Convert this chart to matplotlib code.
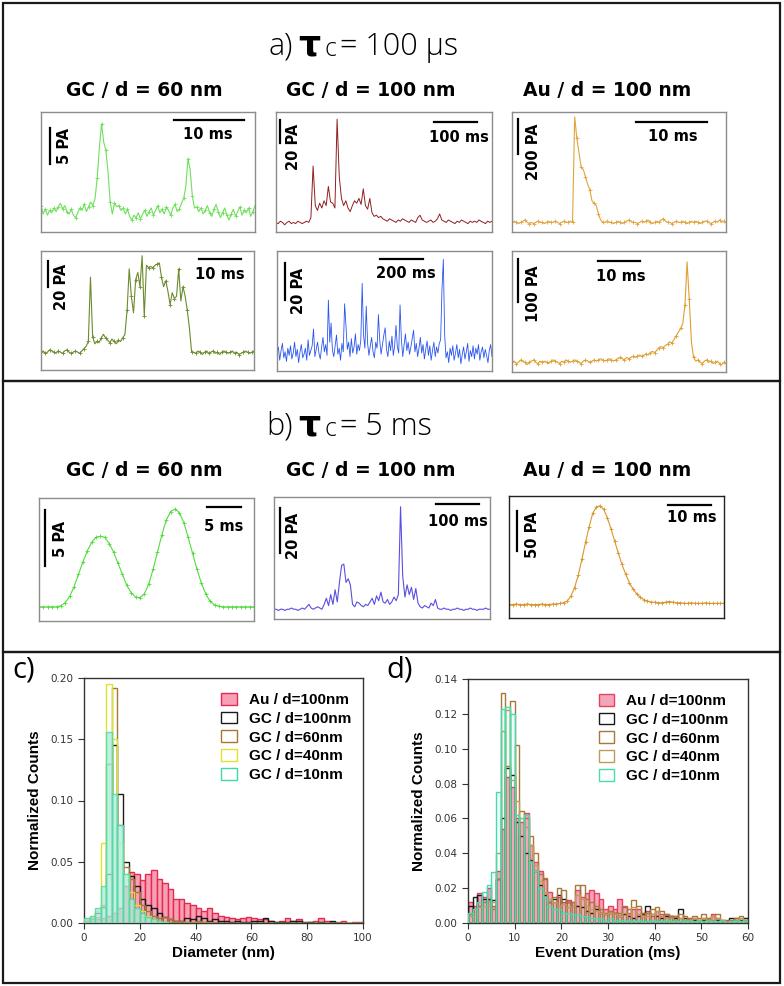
import numpy as np
import matplotlib
matplotlib.use("Agg")
import matplotlib.pyplot as plt
from matplotlib.patches import Rectangle, Patch

W, H = 784, 986

# ---------------- current traces (0-100 = box height) ----------------
a_gc60_1 = [22, 15, 19, 14, 18, 16, 20, 17, 21, 24, 19, 22, 17, 15, 19, 14, 12, 16, 20, 18, 23, 17, 21, 25, 22,
            28, 45, 70, 90, 75, 68, 50, 25, 15,
            24, 21, 22, 18, 20, 15, 19, 13, 10, 14, 12, 16, 11, 15, 18, 13, 17, 20, 14, 18, 22, 16, 19, 15, 21, 18,
            14, 20, 23, 17, 19, 24,
            28, 38, 61, 52, 30, 20,
            21, 17, 20, 15, 18, 22, 16, 13, 19, 23, 17, 12, 16, 20, 14, 10, 15, 19, 13, 17, 21, 14, 18, 16, 20, 13, 17, 22]

a_gc100_1 = [8, 7, 9, 8, 6, 8, 9, 7, 8, 7, 9, 8, 7, 8, 9, 8,
             12, 55, 22, 18, 24, 20, 26, 22, 38, 25, 24, 20, 94, 46, 28, 22, 26, 20, 17, 22, 26, 24, 28, 23,
             36, 22, 19, 28, 16, 13, 14, 12, 13, 11,
             10, 9, 11, 10, 9, 8, 10, 9, 11, 10, 9, 8, 10, 9, 8, 12, 14, 10, 9, 8, 9, 10, 8, 9, 11, 15, 10, 9, 8, 10,
             9, 8, 7, 9, 8, 10, 9, 8, 7, 9, 8, 9, 8, 10, 9, 8, 7, 9, 8, 9]

a_au_1 = [8, 9, 8, 7, 8, 9, 10, 8, 7, 8, 7, 8, 9, 8, 8, 7, 8, 9, 8, 8, 9, 8, 7, 8, 9, 8, 8, 9, 8,
          96, 78, 66, 54, 52, 46, 40, 35, 26, 24, 22, 15, 10, 8,
          8, 9, 8, 8, 7, 8, 9, 8, 7, 8, 9, 10, 9, 8, 8, 7, 8, 9, 8, 9, 10, 8, 7, 8, 9, 8, 10, 11, 9, 8,
          8, 7, 8, 9, 8, 8, 9, 8, 7, 8, 9, 8, 9, 8, 7, 8, 9, 9, 8, 7, 8, 9, 8, 10, 8, 9, 8]

a_gc60_2 = [15, 16, 14, 15, 17, 16, 15, 14, 16, 15, 14, 16, 17, 15, 14, 15, 16, 15, 14, 16, 18, 20,
            24, 78, 28, 22, 24, 23, 27, 30, 27, 25, 23, 26, 24, 22, 25, 24, 27, 30,
            50, 85, 62, 48, 76, 82, 70, 96, 45, 88, 86, 87, 86, 88, 89, 90, 78, 70, 75, 66,
            55, 65, 60, 62, 85, 58, 70, 62, 50, 35, 15,
            15, 14, 16, 15, 13, 15, 16, 14, 15, 16, 14, 15, 13, 15, 16, 15, 14, 15, 16, 14, 15, 13, 14, 15, 16,
            15, 14, 15, 16]

a_gc100_2 = [14, 20, 9, 17, 23, 11, 16, 8, 19, 13,
             21, 10, 15, 24, 12, 18, 7, 16, 22, 11,
             14, 19, 9, 26, 13, 17, 21, 35, 12, 18,
             24, 15, 10, 20, 28, 16, 22, 13, 59, 24,
             40, 17, 12, 21, 30, 14, 19, 9, 23, 16,
             56, 38, 18, 24, 12, 27, 15, 20, 31, 14,
             22, 17, 26, 73, 30, 19, 54, 23, 13, 21,
             28, 16, 11, 24, 19, 47, 25, 14, 22, 30,
             36, 18, 12, 25, 17, 29, 13, 21, 38, 20,
             15, 55, 26, 12, 22, 31, 17, 24, 14, 20,
             27, 34, 16, 23, 12, 19, 28, 15, 22, 10,
             18, 25, 13, 21, 9, 17, 24, 12, 20, 15,
             23, 26, 68, 93, 30, 11, 16, 7, 19, 13,
             21, 9, 15, 22, 11, 18, 6, 14, 20, 10,
             16, 23, 8, 17, 12, 21, 10, 19, 14, 22,
             9, 16, 20, 11, 18, 13, 7, 17, 22, 12]

a_au_2 = [8, 9, 7, 8, 10, 9, 8, 6, 8, 9, 10, 8, 7, 9, 8, 9, 8, 7, 9, 10, 9, 8, 7, 9, 8, 10, 9, 8, 9, 10,
          9, 8, 7, 9, 10, 9, 8, 9, 10, 9, 10, 11, 10, 9, 10, 11, 10, 9, 10, 11, 12, 11, 10, 12, 11, 12, 13, 12, 13, 14,
          13, 14, 15, 14, 16, 17, 16, 18, 20, 21, 20, 22, 23, 25, 24, 27, 30, 33, 36, 40,
          55, 91, 60, 25, 12, 9,
          10, 8, 7, 9, 10, 8, 9, 7, 8, 9, 7, 6, 8, 7]

b_gc60 = [11.5, 11.5, 11.5, 11.5, 11.5, 12.5, 15, 20, 28, 38, 48, 57, 64, 68, 69, 68, 63, 56, 47, 38,
          29, 23, 19.5, 19, 22, 30, 42, 56, 70, 82, 89, 91, 88, 80, 68, 55, 42, 31, 22, 16,
          13, 12, 11.5, 11.5, 11.5, 11.5, 11.5, 11.5, 11.5, 11.5]

b_gc100 = [8, 8, 7, 8, 8, 7, 8, 8, 9, 8, 8, 7, 8, 9, 8, 10,
           12, 9, 8, 9, 10, 9, 8, 12, 17, 11, 20, 12, 24, 14, 30, 44, 45, 30, 33, 28, 12, 10, 14, 13,
           11, 10, 12, 11, 14, 17, 12, 19, 15, 22, 14, 13, 16, 12, 14, 18, 15, 20, 92, 35,
           18, 28, 20, 26, 16, 25, 13, 10, 9, 11, 10, 9, 13, 11, 16, 9, 8,
           8, 9, 8, 8, 7, 8, 8, 9, 8, 8, 7, 8, 8, 9, 8, 8, 7, 8, 8, 8, 9, 8, 8]

b_au = [11, 11, 11.5, 11, 11, 11.5, 11, 11, 11, 11.5, 11, 11, 11.5, 11.5, 12, 12.5,
        14, 18, 25, 35, 48, 62, 75, 86, 91, 92, 89, 82, 73, 63, 53, 44, 36, 29, 24, 20, 17, 15, 14, 13,
        13, 12.5, 12.5, 13, 13.5, 13, 12.5,
        12.5, 12, 12, 12.5, 12, 12, 12, 12.5, 12, 12, 12, 12, 12]

# ---------------- histograms ----------------
diam_bin = 2.0
c_au = [0.002, 0.003, 0.003, 0.004, 0.006, 0.008, 0.012, 0.030, 0.042, 0.040,
        0.035, 0.040, 0.043, 0.036, 0.033, 0.028, 0.020, 0.020, 0.016, 0.015,
        0.012, 0.010, 0.012, 0.008, 0.006, 0.005, 0.004, 0.003, 0.004, 0.005,
        0.004, 0.003, 0.003, 0.002, 0.001, 0.002, 0.004, 0.002, 0.003, 0.000,
        0.001, 0.002, 0.004, 0.002, 0.001, 0.001, 0.002, 0.000, 0.001, 0.001]
c_gc100 = [0.003, 0.005, 0.008, 0.013, 0.040, 0.145, 0.105, 0.050, 0.038, 0.030,
           0.020, 0.015, 0.012, 0.008, 0.005, 0.003, 0.002, 0.002, 0.004, 0.003,
           0.006, 0.004, 0.002, 0.003, 0.002, 0.002, 0.001, 0.002, 0.001, 0.001,
           0.002, 0.002, 0.004, 0.002, 0.001, 0.001, 0.001, 0.002, 0.002, 0.001,
           0.001, 0.000, 0.001, 0.000, 0.002, 0.000, 0.000, 0.000, 0.000, 0.000]
c_gc60 = [0.003, 0.004, 0.005, 0.015, 0.130, 0.192, 0.080, 0.046, 0.036, 0.025,
          0.015, 0.010, 0.006, 0.004, 0.005, 0.003, 0.002, 0.002, 0.001, 0.001,
          0.002, 0.001, 0.001, 0.000, 0.000, 0.000, 0.000, 0.000, 0.000, 0.000,
          0.000, 0.000, 0.000, 0.000, 0.000, 0.000, 0.000, 0.000, 0.000, 0.000,
          0.000, 0.000, 0.000, 0.000, 0.000, 0.000, 0.000, 0.000, 0.000, 0.000]
c_gc40 = [0.003, 0.005, 0.010, 0.065, 0.195, 0.150, 0.065, 0.040, 0.025, 0.015,
          0.010, 0.006, 0.003, 0.002, 0.001, 0.000, 0.000, 0.000, 0.000, 0.000,
          0.000, 0.000, 0.000, 0.000, 0.000, 0.000, 0.000, 0.000, 0.000, 0.000,
          0.000, 0.000, 0.000, 0.000, 0.000, 0.000, 0.000, 0.000, 0.000, 0.000,
          0.000, 0.000, 0.000, 0.000, 0.000, 0.000, 0.000, 0.000, 0.000, 0.000]
c_gc10 = [0.004, 0.006, 0.012, 0.030, 0.156, 0.105, 0.080, 0.040, 0.020, 0.012,
          0.008, 0.005, 0.003, 0.002, 0.001, 0.000, 0.000, 0.000, 0.000, 0.000,
          0.000, 0.000, 0.000, 0.000, 0.000, 0.000, 0.000, 0.000, 0.000, 0.000,
          0.000, 0.000, 0.000, 0.000, 0.000, 0.000, 0.000, 0.000, 0.000, 0.000,
          0.000, 0.000, 0.000, 0.000, 0.000, 0.000, 0.000, 0.000, 0.000, 0.000]

dur_bin = 1.0
d_au = [0.012, 0.010, 0.017, 0.015, 0.020, 0.010, 0.030, 0.054, 0.084, 0.078,
        0.060, 0.058, 0.063, 0.045, 0.035, 0.030, 0.025, 0.018, 0.012, 0.015,
        0.012, 0.013, 0.012, 0.019, 0.015, 0.017, 0.019, 0.017, 0.014, 0.008,
        0.010, 0.008, 0.014, 0.009, 0.006, 0.008, 0.008, 0.006, 0.007, 0.004,
        0.007, 0.005, 0.005, 0.004, 0.004, 0.003, 0.002, 0.003, 0.003, 0.002,
        0.003, 0.003, 0.005, 0.003, 0.002, 0.002, 0.001, 0.002, 0.001, 0.001]
d_gc100 = [0.010, 0.015, 0.016, 0.014, 0.014, 0.013, 0.025, 0.060, 0.089, 0.085,
           0.058, 0.050, 0.040, 0.036, 0.030, 0.022, 0.016, 0.012, 0.014, 0.016,
           0.014, 0.012, 0.010, 0.010, 0.009, 0.007, 0.006, 0.008, 0.006, 0.005,
           0.006, 0.006, 0.004, 0.005, 0.004, 0.003, 0.004, 0.005, 0.010, 0.005,
           0.004, 0.003, 0.004, 0.004, 0.003, 0.008, 0.003, 0.002, 0.002, 0.001,
           0.002, 0.002, 0.001, 0.002, 0.001, 0.001, 0.003, 0.003, 0.002, 0.003]
d_gc60 = [0.005, 0.008, 0.010, 0.012, 0.013, 0.008, 0.025, 0.132, 0.090, 0.1275,
          0.102, 0.064, 0.060, 0.050, 0.040, 0.028, 0.026, 0.012, 0.015, 0.020,
          0.019, 0.012, 0.012, 0.022, 0.022, 0.014, 0.012, 0.010, 0.008, 0.006,
          0.007, 0.006, 0.006, 0.010, 0.008, 0.013, 0.010, 0.006, 0.006, 0.008,
          0.009, 0.007, 0.005, 0.004, 0.004, 0.005, 0.004, 0.003, 0.004, 0.003,
          0.005, 0.003, 0.004, 0.005, 0.002, 0.001, 0.002, 0.003, 0.004, 0.002]
d_gc40 = [0.004, 0.006, 0.009, 0.010, 0.011, 0.012, 0.040, 0.110, 0.122, 0.082,
          0.070, 0.060, 0.055, 0.045, 0.033, 0.024, 0.018, 0.014, 0.012, 0.010,
          0.011, 0.009, 0.010, 0.016, 0.014, 0.010, 0.008, 0.007, 0.006, 0.005,
          0.006, 0.005, 0.004, 0.006, 0.005, 0.009, 0.005, 0.004, 0.004, 0.005,
          0.007, 0.004, 0.003, 0.003, 0.002, 0.003, 0.002, 0.002, 0.003, 0.002,
          0.003, 0.002, 0.004, 0.003, 0.002, 0.001, 0.001, 0.002, 0.003, 0.002]
d_gc10 = [0.006, 0.008, 0.012, 0.018, 0.022, 0.029, 0.075, 0.123, 0.124, 0.120,
          0.062, 0.060, 0.062, 0.035, 0.030, 0.020, 0.015, 0.010, 0.008, 0.008,
          0.006, 0.006, 0.005, 0.005, 0.004, 0.004, 0.003, 0.003, 0.003, 0.002,
          0.003, 0.002, 0.002, 0.002, 0.002, 0.001, 0.002, 0.001, 0.001, 0.002,
          0.001, 0.001, 0.002, 0.001, 0.001, 0.001, 0.001, 0.001, 0.001, 0.001,
          0.001, 0.001, 0.001, 0.001, 0.001, 0.000, 0.001, 0.001, 0.001, 0.001]

legend_labels = ["Au / d=100nm", "GC / d=100nm", "GC / d=60nm", "GC / d=40nm", "GC / d=10nm"]

plt.rcParams["font.family"] = ["DejaVu Sans"]
fig = plt.figure(figsize=(W / 100, H / 100), dpi=100)


def px_axes(x0, y0, x1, y1):
    return fig.add_axes([x0 / W, 1 - y1 / H, (x1 - x0) / W, (y1 - y0) / H])


def ftext(x, y, s, **kw):
    fig.text(x / W, 1 - y / H, s, **kw)


def border(x0, y0, x1, y1):
    fig.add_artist(Rectangle((x0 / W, 1 - y1 / H), (x1 - x0) / W, (y1 - y0) / H,
                             transform=fig.transFigure, fill=False, lw=1.6, ec="#1a1a1a"))


def trace(box, y, color, marks, hbar, hlab, vbar, vlab, edge="#8c8c8c", lw=0.8):
    ax = px_axes(*box)
    t = np.arange(len(y))
    kw = dict(marker="+", ms=3, mew=0.6, markevery=marks) if marks else {}
    ax.plot(t, y, color=color, lw=lw, **kw)
    ax.set_xlim(0, len(y) - 1)
    ax.set_ylim(0, 100)
    ax.set_xticks([])
    ax.set_yticks([])
    for s in ax.spines.values():
        s.set_color(edge)
        s.set_linewidth(1.0)
    ax.plot([hbar[0], hbar[1]], [hbar[2], hbar[2]], transform=ax.transAxes,
            color="black", lw=1.6, clip_on=False)
    ax.text(hlab[0], hlab[1], hlab[2], transform=ax.transAxes, ha="center", va="center",
            fontsize=10.5, fontweight="bold")
    ax.plot([vbar[0], vbar[0]], [vbar[1], vbar[2]], transform=ax.transAxes,
            color="black", lw=1.6, clip_on=False)
    ax.text(vlab[0], vlab[1], vlab[2], transform=ax.transAxes, ha="center", va="center",
            rotation=90, fontsize=10.5, fontweight="bold")


def title(y, lab, rest):
    ftext(293, y, lab, ha="right", va="baseline", fontsize=22, family="Open Sans", fontweight="light")
    ftext(298, y, "τ", ha="left", va="baseline", fontsize=25, fontweight="bold")
    ftext(325, y + 1, "c", ha="left", va="baseline", fontsize=18, family="Open Sans", fontweight="light")
    ftext(340, y, rest, ha="left", va="baseline", fontsize=22, family="Open Sans", fontweight="light")


# ---------------- panel borders ----------------
border(3, 3, 780, 381)
border(3, 381, 780, 652)
border(3, 652, 780, 983)

# ---------------- panel a ----------------
title(55, "a)", "= 100 µs")
for x, s in [(144, "GC / d = 60 nm"), (371, "GC / d = 100 nm"), (607, "Au / d = 100 nm")]:
    ftext(x, 90, s, ha="center", va="center", fontsize=13.5, fontweight="bold")
    ftext(x, 470, s, ha="center", va="center", fontsize=13.5, fontweight="bold")

trace((41, 112, 255, 232), a_gc60_1, "#6fe05c", 2,
      (0.62, 0.95, 0.93), (0.78, 0.81, "10 ms"), (0.04, 0.57, 0.87), (0.11, 0.72, "5 PA"))
trace((276, 112, 492, 232), a_gc100_1, "#8e1f22", 0,
      (0.73, 0.93, 0.92), (0.846, 0.79, "100 ms"), (0.02, 0.74, 0.93), (0.08, 0.71, "20 PA"), lw=0.7)
trace((512, 112, 726, 232), a_au_1, "#e2a43e", 2,
      (0.58, 0.91, 0.92), (0.75, 0.80, "10 ms"), (0.03, 0.65, 0.94), (0.10, 0.67, "200 PA"))
trace((41, 251, 254, 370), a_gc60_2, "#6b8b2c", 2,
      (0.74, 0.94, 0.93), (0.84, 0.80, "10 ms"), (0.035, 0.70, 0.92), (0.095, 0.70, "20 PA"))
trace((277, 251, 492, 371), a_gc100_2, "#2a55ee", 0,
      (0.48, 0.68, 0.93), (0.60, 0.81, "200 ms"), (0.035, 0.59, 0.90), (0.10, 0.67, "20 PA"), lw=0.6)
trace((512, 251, 726, 372), a_au_2, "#dea033", 2,
      (0.40, 0.60, 0.92), (0.51, 0.79, "10 ms"), (0.03, 0.58, 0.93), (0.10, 0.65, "100 PA"))

# ---------------- panel b ----------------
title(435, "b)", "= 5 ms")
trace((39, 498, 254, 621), b_gc60, "#52dc3c", 1,
      (0.78, 0.94, 0.93), (0.86, 0.77, "5 ms"), (0.03, 0.45, 0.90), (0.10, 0.67, "5 PA"))
trace((274, 497, 490, 619), b_gc100, "#5a4fe0", 0,
      (0.75, 0.95, 0.94), (0.85, 0.80, "100 ms"), (0.03, 0.54, 0.91), (0.09, 0.68, "20 PA"))
trace((509, 496, 724, 618), b_au, "#d8972e", 1,
      (0.74, 0.94, 0.93), (0.85, 0.82, "10 ms"), (0.035, 0.55, 0.88), (0.11, 0.68, "50 PA"),
      edge="#222222")

# ---------------- panels c, d ----------------
ftext(12, 678, "c)", ha="left", va="baseline", fontsize=21, family="Open Sans")
ftext(386, 678, "d)", ha="left", va="baseline", fontsize=21, family="Open Sans")


def hist_axes(ax, xmax, ymax, ystep, xstep, xlabel):
    ax.set_xlim(0, xmax)
    ax.set_ylim(0, ymax)
    ax.set_xticks(np.arange(0, xmax + 0.1, xstep))
    ax.set_yticks(np.arange(0, ymax + 1e-9, ystep))
    ax.yaxis.set_major_formatter(plt.FormatStrFormatter("%.2f"))
    ax.tick_params(direction="out", length=4, width=0.8, labelsize=7.5, colors="#333333")
    for s in ax.spines.values():
        s.set_color("#333333")
        s.set_linewidth(1.0)
    ax.set_ylabel("Normalized Counts", fontsize=11, fontweight="bold", family="Liberation Sans", labelpad=6)
    ax.set_xlabel(xlabel, fontsize=11, fontweight="bold", family="Liberation Sans", labelpad=2)


def bars(ax, bw, vals, fc, ec, z, alpha=1.0):
    edges = np.arange(len(vals)) * bw
    ax.bar(edges, vals, width=bw, align="edge", color=fc, edgecolor=ec, lw=1.0, zorder=z, alpha=alpha)


leg_kw = dict(loc="upper left", frameon=False,
              prop=dict(family="Liberation Sans", weight="bold", size=11),
              handlelength=1.0, handleheight=0.8, handletextpad=0.8, labelspacing=0.3, borderpad=0)

axc = px_axes(84, 678, 363, 923)
bars(axc, diam_bin, c_au, "#f5a0b5", "#e8284e", 2)
bars(axc, diam_bin, c_gc100, "none", "#1a1a1a", 3)
bars(axc, diam_bin, c_gc60, "none", "#a67638", 3)
bars(axc, diam_bin, c_gc40, "none", "#dde22a", 3)
bars(axc, diam_bin, c_gc10, "#a9eddb", "#3ddaa8", 4, alpha=0.75)
hist_axes(axc, 100, 0.20, 0.05, 20, "Diameter (nm)")
c_cols = [("#f5a0b5", "#e8284e"), ("white", "#1a1a1a"), ("white", "#a67638"),
          ("white", "#dde22a"), ("white", "#3ddaa8")]
axc.legend([Patch(fc=f, ec=e, lw=1.0) for f, e in c_cols], legend_labels,
           bbox_to_anchor=(0.465, 0.97), **leg_kw)

axd = px_axes(468, 679, 748, 923)
bars(axd, dur_bin, d_gc10, "#effcf7", "none", 1)
bars(axd, dur_bin, d_au, "#f2a6bb", "#e8405e", 2)
bars(axd, dur_bin, d_gc100, "none", "#1a1a1a", 3)
bars(axd, dur_bin, d_gc60, "none", "#a8783a", 3)
bars(axd, dur_bin, d_gc40, "none", "#bf9a58", 3)
bars(axd, dur_bin, d_gc10, "none", "#44dcae", 4)
hist_axes(axd, 60, 0.14, 0.02, 10, "Event Duration (ms)")
d_cols = [("#f2a6bb", "#e8405e"), ("white", "#1a1a1a"), ("white", "#a8783a"),
          ("white", "#bf9a58"), ("white", "#44dcae")]
axd.legend([Patch(fc=f, ec=e, lw=1.0) for f, e in d_cols], legend_labels,
           bbox_to_anchor=(0.44, 0.97), **leg_kw)

fig.savefig("out.png", dpi=100)
